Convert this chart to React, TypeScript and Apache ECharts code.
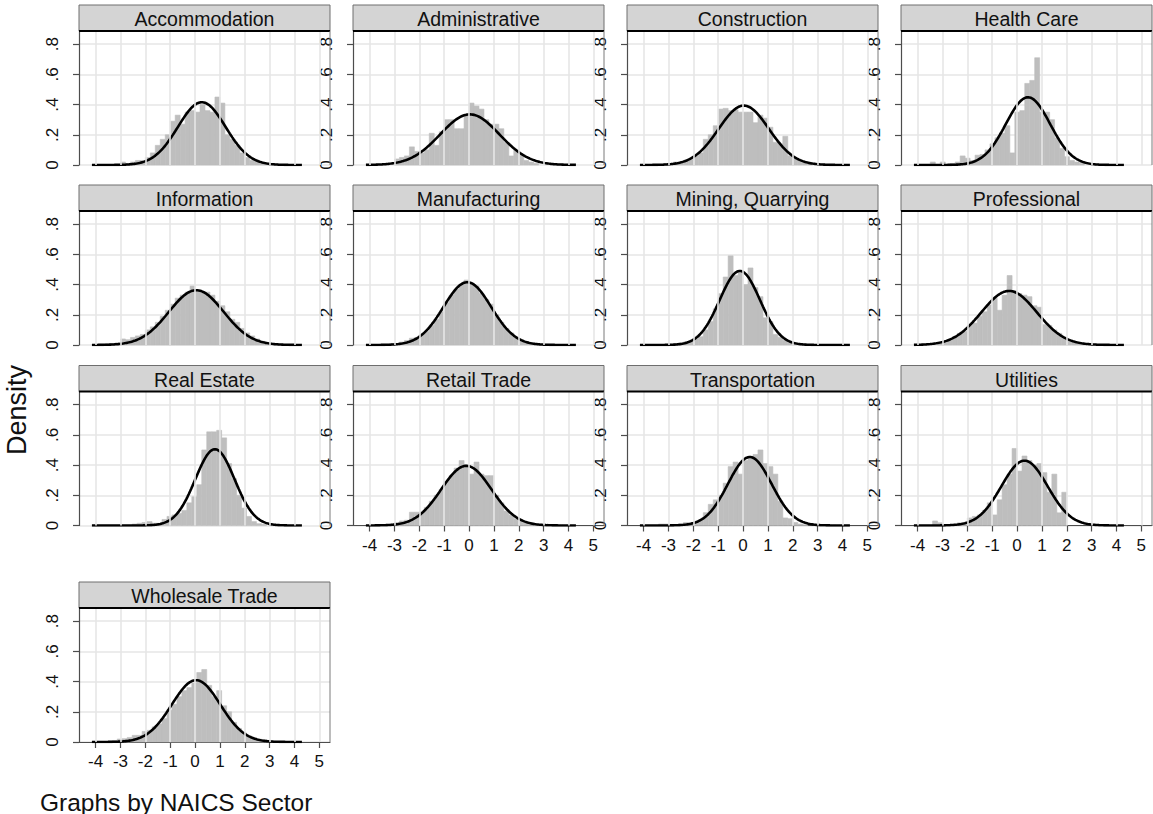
import React, { useEffect, useRef } from 'react';
import * as echarts from 'echarts';

// Panels of the by(sector) histogram, in reading order
const SECTORS = [
  'Accommodation', 'Administrative', 'Construction', 'Health Care',
  'Information', 'Manufacturing', 'Mining, Quarrying', 'Professional',
  'Real Estate', 'Retail Trade', 'Transportation', 'Utilities',
  'Wholesale Trade',
];

// Histogram bins: common width, left edge of the first bin per panel
const BIN_WIDTH = 0.2;
const BIN_STARTS = [-3.2, -3.0, -3.2, -3.49, -4.0, -3.6, -3.0, -3.2, -2.53, -3.2, -3.4, -3.4, -3.53];

// Bin densities per sector
const ACCOMMODATION = [0.0, 0.02, 0.01, 0.02, 0.03, 0.03, 0.05, 0.08, 0.13, 0.17, 0.2, 0.29, 0.33, 0.27, 0.35, 0.36, 0.35, 0.4, 0.36, 0.35, 0.45, 0.41, 0.2, 0.17, 0.13, 0.08, 0.05, 0.03, 0.02, 0.01, 0.01];
const ADMINISTRATIVE = [0.04, 0.05, 0.06, 0.12, 0.09, 0.08, 0.1, 0.21, 0.13, 0.22, 0.3, 0.3, 0.24, 0.24, 0.33, 0.41, 0.39, 0.37, 0.3, 0.27, 0.27, 0.24, 0.15, 0.06, 0.1, 0.07, 0.03, 0.02, 0.01];
const CONSTRUCTION = [0.01, 0.01, 0.02, 0.02, 0.03, 0.04, 0.06, 0.08, 0.17, 0.2, 0.26, 0.37, 0.375, 0.36, 0.365, 0.35, 0.35, 0.35, 0.28, 0.33, 0.31, 0.25, 0.15, 0.14, 0.19, 0.06, 0.04, 0.03, 0.02, 0.01];
const HEALTH_CARE = [0.02, 0.0, 0.02, 0.0, 0.01, 0.02, 0.06, 0.045, 0.03, 0.065, 0.07, 0.1, 0.14, 0.18, 0.21, 0.26, 0.08, 0.35, 0.36, 0.54, 0.56, 0.71, 0.35, 0.35, 0.3, 0.18, 0.11, 0.055, 0.03, 0.02, 0.01];
const INFORMATION = [0.005, 0.005, 0.01, 0.01, 0.015, 0.04, 0.035, 0.05, 0.06, 0.07, 0.1, 0.12, 0.15, 0.19, 0.23, 0.27, 0.31, 0.33, 0.35, 0.39, 0.36, 0.35, 0.35, 0.33, 0.29, 0.26, 0.22, 0.17, 0.15, 0.11, 0.08, 0.06, 0.04, 0.025, 0.015, 0.01, 0.005];
const MANUFACTURING = [0.005, 0.005, 0.01, 0.01, 0.02, 0.03, 0.045, 0.05, 0.07, 0.09, 0.13, 0.17, 0.22, 0.28, 0.33, 0.37, 0.4, 0.43, 0.41, 0.39, 0.34, 0.3, 0.27, 0.2, 0.15, 0.11, 0.08, 0.05, 0.035, 0.02, 0.015, 0.01, 0.005, 0.005];
const MINING = [0.005, 0.01, 0.015, 0.02, 0.03, 0.04, 0.055, 0.1, 0.155, 0.24, 0.34, 0.45, 0.59, 0.46, 0.48, 0.4, 0.51, 0.38, 0.32, 0.18, 0.155, 0.07, 0.05, 0.03, 0.02, 0.01, 0.005];
const PROFESSIONAL = [0.01, 0.02, 0.03, 0.055, 0.077, 0.09, 0.13, 0.145, 0.19, 0.22, 0.265, 0.31, 0.23, 0.33, 0.46, 0.36, 0.34, 0.33, 0.32, 0.26, 0.25, 0.135, 0.13, 0.1, 0.077, 0.045, 0.03, 0.02, 0.01, 0.005];
const REAL_ESTATE = [0.01, 0.015, 0.02, 0.026, 0.015, 0.015, 0.04, 0.06, 0.07, 0.08, 0.1, 0.15, 0.19, 0.27, 0.5, 0.62, 0.62, 0.63, 0.58, 0.41, 0.31, 0.2, 0.115, 0.06, 0.026, 0.012, 0.008];
const RETAIL_TRADE = [0.01, 0.02, 0.03, 0.035, 0.088, 0.088, 0.09, 0.12, 0.16, 0.2, 0.24, 0.29, 0.33, 0.38, 0.43, 0.4, 0.34, 0.42, 0.34, 0.33, 0.33, 0.2, 0.15, 0.095, 0.07, 0.045, 0.03, 0.02, 0.01, 0.005];
const TRANSPORTATION = [0.01, 0.01, 0.005, 0.005, 0.01, 0.02, 0.02, 0.025, 0.04, 0.085, 0.14, 0.17, 0.2, 0.28, 0.39, 0.42, 0.34, 0.43, 0.45, 0.47, 0.5, 0.41, 0.39, 0.34, 0.16, 0.05, 0.045, 0.02, 0.01, 0.005];
const UTILITIES = [0.03, 0.018, 0.0, 0.0, 0.0, 0.018, 0.018, 0.05, 0.06, 0.07, 0.1, 0.15, 0.07, 0.17, 0.27, 0.34, 0.51, 0.36, 0.46, 0.43, 0.4, 0.41, 0.35, 0.22, 0.34, 0.084, 0.22];
const WHOLESALE_TRADE = [0.005, 0.01, 0.02, 0.022, 0.03, 0.044, 0.044, 0.07, 0.077, 0.1, 0.12, 0.155, 0.21, 0.25, 0.3, 0.34, 0.36, 0.39, 0.46, 0.48, 0.375, 0.3, 0.34, 0.24, 0.2, 0.13, 0.09, 0.06, 0.04, 0.03, 0.02, 0.015, 0.01, 0.005];

const HEIGHTS = [
  ACCOMMODATION, ADMINISTRATIVE, CONSTRUCTION, HEALTH_CARE,
  INFORMATION, MANUFACTURING, MINING, PROFESSIONAL,
  REAL_ESTATE, RETAIL_TRADE, TRANSPORTATION, UTILITIES,
  WHOLESALE_TRADE,
];

// Fitted normal overlay: mean and standard deviation per sector
const MEANS = [0.27, 0.03, 0.03, 0.44, 0.05, -0.07, -0.13, -0.32, 0.8, -0.11, 0.27, 0.3, 0.04];
const SDS = [0.96, 1.19, 1.015, 0.89, 1.1, 0.96, 0.814, 1.115, 0.79, 1.01, 0.88, 0.93, 0.975];
const CURVE_FROM = -4.15;
const CURVE_TO = 4.32;
const CURVE_STEP = 0.05;

// Axis ticks
const X_TICKS = [-4, -3, -2, -1, 0, 1, 2, 3, 4, 5];
const Y_TICKS = [0, 0.2, 0.4, 0.6, 0.8];
const X_MIN = -4.67;
const X_MAX = 5.43;
const Y_MAX = 0.887;

// Layout
const COL_LEFT = [79, 353, 627, 901];
const ROW_TOP = [31, 211, 391.5, 608];
const PLOT_W = 251;
const PLOT_H = 134;
const STRIP_H = 26;

const FONT = "'Liberation Sans', Arial, Helvetica, sans-serif";
const GRID_COLOR = '#e6e6e6';
const AXIS_COLOR = '#4d4d4d';
const BAR_COLOR = '#bebebe';
const TICK_FONT = 17;

function normalDensity(x: number, mean: number, sd: number): number {
  const z = (x - mean) / sd;
  return Math.exp(-0.5 * z * z) / (sd * Math.sqrt(2 * Math.PI));
}

function yLabel(v: number): string {
  if (Math.abs(v) < 1e-9) return '0';
  return '.' + Math.round(v * 10);
}

function buildOption() {
  const grid: any[] = [];
  const xAxis: any[] = [];
  const yAxis: any[] = [];
  const series: any[] = [];
  const graphic: any[] = [];

  SECTORS.forEach((name, i) => {
    const col = i % 4;
    const row = Math.floor(i / 4);
    const left = COL_LEFT[col];
    const top = ROW_TOP[row];
    const hasXAxis = i >= SECTORS.length - 4;

    grid.push({ left, top, width: PLOT_W, height: PLOT_H, containLabel: false });

    xAxis.push({
      type: 'value',
      gridIndex: i,
      min: X_MIN,
      max: X_MAX,
      splitLine: { show: false },
      axisLine: { show: hasXAxis, onZero: false, lineStyle: { color: AXIS_COLOR, width: 1.2 } },
      axisTick: { show: hasXAxis, customValues: X_TICKS, length: 6, lineStyle: { color: AXIS_COLOR, width: 1.2 } },
      axisLabel: {
        show: hasXAxis,
        customValues: X_TICKS,
        margin: 11,
        fontSize: TICK_FONT,
        fontFamily: FONT,
        color: '#111',
        formatter: (v: number) => (Math.abs(v - Math.round(v)) < 1e-6 ? String(Math.round(v)) : ''),
      },
    });

    yAxis.push({
      type: 'value',
      gridIndex: i,
      min: 0,
      max: Y_MAX,
      interval: 0.2,
      axisLine: { show: true, onZero: false, lineStyle: { color: AXIS_COLOR, width: 1.2 } },
      axisTick: { show: true, customValues: Y_TICKS, length: 6, lineStyle: { color: AXIS_COLOR, width: 1.2 } },
      axisLabel: {
        customValues: Y_TICKS,
        rotate: 90,
        margin: 18,
        fontSize: TICK_FONT,
        fontFamily: FONT,
        color: '#111',
        formatter: yLabel,
      },
      splitLine: { show: true, lineStyle: { color: GRID_COLOR, width: 1.6 } },
    });

    // vertical grid lines at the integer ticks
    series.push({
      type: 'line',
      xAxisIndex: i,
      yAxisIndex: i,
      data: [[X_MIN, 0]],
      showSymbol: false,
      lineStyle: { width: 0 },
      silent: true,
      z: 1,
      markLine: {
        silent: true,
        symbol: 'none',
        label: { show: false },
        lineStyle: { color: GRID_COLOR, width: 1.6, type: 'solid' },
        data: X_TICKS.map((v) => ({ xAxis: v })),
      },
    });

    const bins = HEIGHTS[i].map((h, k) => {
      const x0 = BIN_STARTS[i] + k * BIN_WIDTH;
      return [x0, x0 + BIN_WIDTH, h];
    });
    series.push({
      type: 'custom',
      xAxisIndex: i,
      yAxisIndex: i,
      data: bins,
      z: 2,
      silent: true,
      encode: { x: [0, 1], y: 2 },
      renderItem: (_params: any, api: any) => {
        const p0 = api.coord([api.value(0), 0]);
        const p1 = api.coord([api.value(1), api.value(2)]);
        return {
          type: 'rect',
          shape: { x: p0[0], y: p1[1], width: p1[0] - p0[0], height: p0[1] - p1[1] },
          style: { fill: BAR_COLOR, stroke: BAR_COLOR, lineWidth: 0.6 },
        };
      },
    });

    const curve: number[][] = [];
    for (let x = CURVE_FROM; x <= CURVE_TO + 1e-9; x += CURVE_STEP) {
      curve.push([x, normalDensity(x, MEANS[i], SDS[i])]);
    }
    series.push({
      type: 'line',
      xAxisIndex: i,
      yAxisIndex: i,
      data: curve,
      showSymbol: false,
      silent: true,
      z: 3,
      lineStyle: { color: '#000', width: 2.6 },
    });

    // strip with the sector name, and the plot's right border
    graphic.push({
      type: 'rect',
      shape: { x: left, y: top - STRIP_H, width: PLOT_W, height: STRIP_H },
      style: { fill: '#d4d4d4', stroke: '#6e6e6e', lineWidth: 1 },
      z: 10,
    });
    graphic.push({
      type: 'line',
      shape: { x1: left, y1: top, x2: left + PLOT_W, y2: top },
      style: { stroke: '#000', lineWidth: 2 },
      z: 11,
    });
    graphic.push({
      type: 'line',
      shape: { x1: left + PLOT_W, y1: top, x2: left + PLOT_W, y2: top + PLOT_H },
      style: { stroke: '#7a7a7a', lineWidth: 1 },
      z: 11,
    });
    graphic.push({
      type: 'text',
      x: left + PLOT_W / 2,
      y: top - STRIP_H / 2 + 1,
      style: {
        text: name,
        fill: '#111',
        font: `19.5px ${FONT}`,
        textAlign: 'center',
        textVerticalAlign: 'middle',
      },
      z: 12,
    });
  });

  graphic.push({
    type: 'text',
    x: 17,
    y: 410,
    rotation: Math.PI / 2,
    style: {
      text: 'Density',
      fill: '#111',
      font: `27px ${FONT}`,
      textAlign: 'center',
      textVerticalAlign: 'middle',
    },
  });
  graphic.push({
    type: 'text',
    x: 40,
    y: 802,
    style: {
      text: 'Graphs by NAICS Sector',
      fill: '#111',
      font: `24.5px ${FONT}`,
      textAlign: 'left',
      textVerticalAlign: 'middle',
    },
  });

  return {
    animation: false,
    backgroundColor: '#ffffff',
    grid,
    xAxis,
    yAxis,
    series,
    graphic,
  };
}

export default function App() {
  const ref = useRef<HTMLDivElement>(null);

  useEffect(() => {
    if (!ref.current) return;
    const chart = echarts.init(ref.current, null, { renderer: 'svg' });
    chart.setOption(buildOption() as any);
    return () => chart.dispose();
  }, []);

  return (
    <div
      ref={ref}
      style={{ position: 'fixed', left: 0, top: 0, width: 1153, height: 814, background: '#fff' }}
    />
  );
}
